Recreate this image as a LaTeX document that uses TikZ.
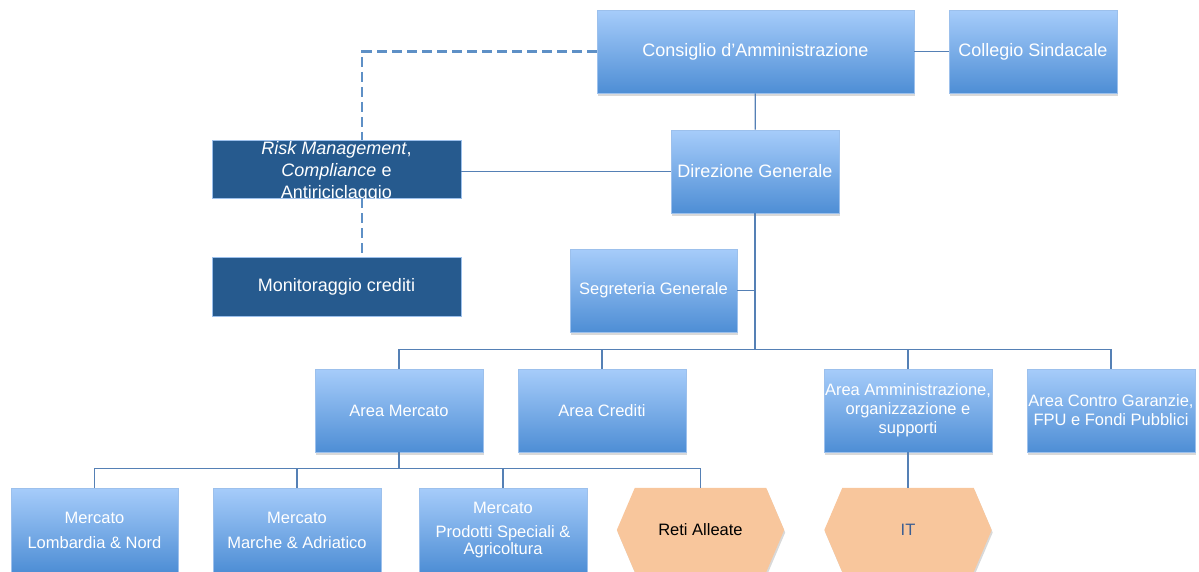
\documentclass[tikz,border=0pt]{standalone}
\usepackage{fontspec}
\setmainfont{Liberation Sans}
\usetikzlibrary{shadows,backgrounds}
\definecolor{btop}{HTML}{A6CCFA}
\definecolor{bbot}{HTML}{4E8ED5}
\definecolor{bedge}{HTML}{9CC0EC}
\definecolor{dbox}{HTML}{265A8E}
\definecolor{conn}{HTML}{5580B5}
\definecolor{dashc}{HTML}{5E90C6}
\definecolor{peach}{HTML}{F8C69C}
\definecolor{itc}{HTML}{3C5E92}
\begin{document}
\begin{tikzpicture}[x=1pt,y=-1pt,
  bluebox/.style={rectangle, draw=bedge, line width=0.6pt, top color=btop, bottom color=bbot,
    text=white, align=center, inner sep=0pt,
    drop shadow={opacity=0.3,shadow xshift=1pt,shadow yshift=-2.5pt}},
  big/.style={font=\fontsize{18}{22}\selectfont},
  small/.style={font=\fontsize{16.5}{19}\selectfont},
  darkbox/.style={rectangle, draw=bedge, line width=0.6pt, fill=dbox, text=white, align=center,
    inner sep=0pt, minimum width=249pt, font=\fontsize{18}{22}\selectfont},
  risktext/.style={text=white, align=center, inner sep=0pt, yshift=-3pt,
    font=\fontsize{18}{22}\selectfont},
  hexbox/.style={rectangle, inner sep=0pt, minimum width=167pt, minimum height=84pt,
    font=\fontsize{16.5}{19}\selectfont},
  hexfill/.style={fill=peach, drop shadow={opacity=0.3,shadow xshift=1pt,shadow yshift=-2.5pt}},
  conn/.style={draw=conn, line width=1.2pt},
  dashline/.style={draw=dashc, line width=2.8pt, dash pattern=on 10pt off 5pt}
]
\useasboundingbox (0,0) rectangle (1199,571);

% top level
\node[bluebox, big, minimum width=317pt, minimum height=83pt] (cda) at (755.5,51.5) {Consiglio d’Amministrazione};
\node[bluebox, big, minimum width=168pt, minimum height=83pt] (cs) at (1033,51.5) {Collegio Sindacale};
\node[bluebox, big, minimum width=168pt, minimum height=83pt] (dg) at (755,171.5) {Direzione Generale};
\node[darkbox, minimum height=58pt,
  label={[risktext]center:{\textit{Risk Management}, \\ \textit{Compliance} e\\ Antiriciclaggio}}] (risk) at (336.5,169) {};
\node[darkbox, minimum height=59pt] (mon) at (336.5,286.5) {Monitoraggio crediti};
\node[bluebox, small, minimum width=167pt, minimum height=83pt] (sg) at (653.5,290.5) {Segreteria Generale};

% areas
\node[bluebox, small, minimum width=168pt, minimum height=83pt] (am) at (399,410.5) {Area Mercato};
\node[bluebox, small, minimum width=168pt, minimum height=83pt] (ac) at (602,410.5) {Area Crediti};
\node[bluebox, small, minimum width=168pt, minimum height=83pt] (aa) at (908,410.5) {Area Amministrazione,\\ organizzazione e\\ supporti};
\node[bluebox, small, minimum width=168pt, minimum height=83pt] (acg) at (1111,410.5) {Area Contro Garanzie,\\ FPU e Fondi Pubblici};

% mercato
\node[bluebox, font=\fontsize{16.5}{18}\selectfont, minimum width=167pt, minimum height=84pt] (m1) at (94.5,530) {Mercato\\[7pt] Lombardia \& Nord};
\node[bluebox, font=\fontsize{16.5}{18}\selectfont, minimum width=168pt, minimum height=84pt] (m2) at (297,530) {Mercato\\[7pt] Marche \& Adriatico};
\node[bluebox, font=\fontsize{16.5}{17.5}\selectfont, minimum width=168pt, minimum height=84pt] (m3) at (503,530) {Mercato\\[6.5pt] Prodotti Speciali \&\\ Agricoltura};

\node[hexbox, text=black] (reti) at (700.5,530) {Reti Alleate};
\node[hexbox, text=itc] (it) at (908,530) {IT};
\begin{scope}[on background layer]
\foreach \n in {reti,it}{
  \path[hexfill] ([xshift=18pt]\n.north west) -- ([xshift=-18pt]\n.north east) -- (\n.east)
    -- ([xshift=-18pt]\n.south east) -- ([xshift=18pt]\n.south west) -- (\n.west) -- cycle;
}
\end{scope}

% connectors
\draw[conn] (cda) -- (cs);
\draw[conn] (cda) -- (dg);
\draw[conn] (risk.east |- dg.west) -- (dg.west);
\draw[dashline] (cda.west) -| ([xshift=25.5pt]risk.north);
\draw[dashline] ([xshift=25.5pt]risk.south) -- ([xshift=25.5pt]mon.north);
\coordinate (b1) at (755,350);
\draw[conn] (dg.south) -- (b1);
\draw[conn] (sg.east) -- (sg.east -| dg.south);
\draw[conn] (am.north) -- ++(0,-19) -| (acg.north);
\draw[conn] (ac.north) -- ++(0,-19);
\draw[conn] (aa.north) -- ++(0,-19);
\draw[conn] (am.south) -- ++(0,17);
\draw[conn] (m1.north) -- ++(0,-19) -| (reti.north);
\draw[conn] (m2.north) -- ++(0,-19);
\draw[conn] (m3.north) -- ++(0,-19);
\draw[conn] (aa.south) -- (it.north);
\end{tikzpicture}
\end{document}
